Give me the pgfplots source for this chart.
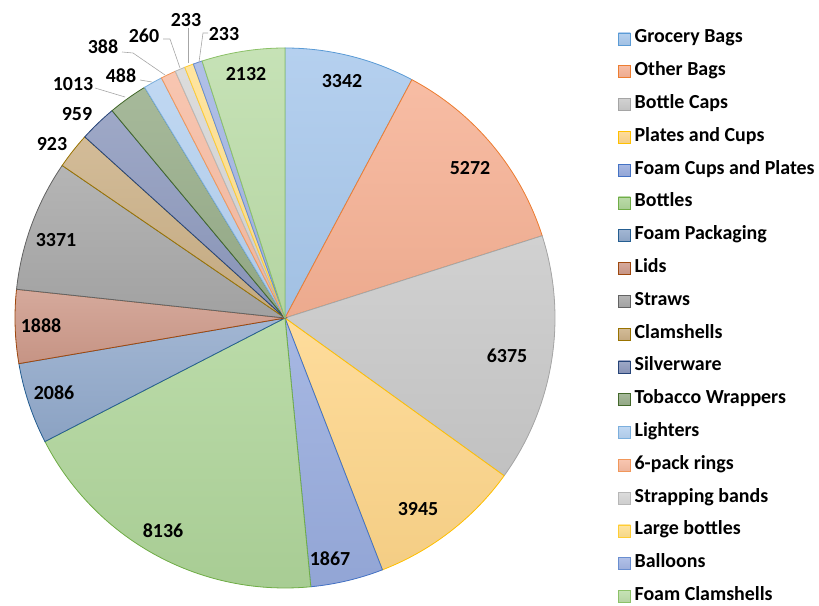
\documentclass[border=0pt]{standalone}
\usepackage{pgfplots}
\pgfplotsset{compat=1.18}
\usepackage{fontspec}
\setmainfont{Carlito}

\definecolor{f1}{HTML}{A8C8EC}\definecolor{d1}{HTML}{5B9BD5}
\definecolor{f2}{HTML}{F6B194}\definecolor{d2}{HTML}{ED7D31}
\definecolor{f3}{HTML}{C9C9C9}\definecolor{d3}{HTML}{A5A5A5}
\definecolor{f4}{HTML}{FED68A}\definecolor{d4}{HTML}{FFC000}
\definecolor{f5}{HTML}{98ACDE}\definecolor{d5}{HTML}{4472C4}
\definecolor{f6}{HTML}{AFD59A}\definecolor{d6}{HTML}{70AD47}
\definecolor{f7}{HTML}{91A9CB}\definecolor{d7}{HTML}{255E91}
\definecolor{f8}{HTML}{CE9A8A}\definecolor{d8}{HTML}{9E480E}
\definecolor{f9}{HTML}{A8A8A8}\definecolor{d9}{HTML}{636363}
\definecolor{f10}{HTML}{CBB086}\definecolor{d10}{HTML}{997300}
\definecolor{f11}{HTML}{8D99BD}\definecolor{d11}{HTML}{264478}
\definecolor{f12}{HTML}{97AD89}\definecolor{d12}{HTML}{43682B}
\definecolor{f13}{HTML}{B5D1F0}\definecolor{d13}{HTML}{7CAFDD}
\definecolor{f14}{HTML}{F7BCA3}\definecolor{d14}{HTML}{F1975A}
\definecolor{f15}{HTML}{D6D6D6}\definecolor{d15}{HTML}{B7B7B7}
\definecolor{f16}{HTML}{FFE08F}\definecolor{d16}{HTML}{FFCD33}
\definecolor{f17}{HTML}{A3B5E3}\definecolor{d17}{HTML}{698ED0}
\definecolor{f18}{HTML}{BCDDA9}\definecolor{d18}{HTML}{8CC168}
\definecolor{leader}{HTML}{A6A6A6}

\expandafter\def\csname nm1\endcsname{Grocery Bags}
\expandafter\def\csname nm2\endcsname{Other Bags}
\expandafter\def\csname nm3\endcsname{Bottle Caps}
\expandafter\def\csname nm4\endcsname{Plates and Cups}
\expandafter\def\csname nm5\endcsname{Foam Cups and Plates}
\expandafter\def\csname nm6\endcsname{Bottles}
\expandafter\def\csname nm7\endcsname{Foam Packaging}
\expandafter\def\csname nm8\endcsname{Lids}
\expandafter\def\csname nm9\endcsname{Straws}
\expandafter\def\csname nm10\endcsname{Clamshells}
\expandafter\def\csname nm11\endcsname{Silverware}
\expandafter\def\csname nm12\endcsname{Tobacco Wrappers}
\expandafter\def\csname nm13\endcsname{Lighters}
\expandafter\def\csname nm14\endcsname{6-pack rings}
\expandafter\def\csname nm15\endcsname{Strapping bands}
\expandafter\def\csname nm16\endcsname{Large bottles}
\expandafter\def\csname nm17\endcsname{Balloons}
\expandafter\def\csname nm18\endcsname{Foam Clamshells}

\def\vals{3342,5272,6375,3945,1867,8136,2086,1888,3371,923,959,1013,488,388,260,233,233,2132}
\newcommand\lbl{\bfseries\fontsize{20}{24}\selectfont}

\begin{document}%
\begin{tikzpicture}
\xdef\tot{0}
\foreach \v in \vals {\pgfmathparse{\tot+\v/1000}\xdef\tot{\pgfmathresult}}
\xdef\cum{0}
\foreach \v [count=\i] in \vals {%
  \pgfmathparse{\cum/\tot*360}\expandafter\xdef\csname sA\i\endcsname{\pgfmathresult}%
  \pgfmathparse{\cum+\v/1000}\xdef\cum{\pgfmathresult}%
  \pgfmathparse{\cum/\tot*360}\expandafter\xdef\csname sB\i\endcsname{\pgfmathresult}%
}
\begin{axis}[
  width=819bp, height=606bp, scale only axis,
  xmin=0, xmax=819, ymin=0, ymax=606,
  hide axis, clip=false,
  legend style={at={(axis description cs:0.7546,0.9490)}, anchor=north west,
    draw=none, fill=none, inner sep=0pt, outer sep=0pt,
    row sep=16.8bp, column sep=4bp,
    font=\lbl,
    nodes={inner sep=0pt, text height=12bp, text depth=4bp}},
  legend cell align=left,
  legend image code/.code={\draw[#1, line width=0.6bp] (0bp,-6bp) rectangle (12bp,6bp);},
]
\pgfplotsinvokeforeach{1,...,18}{
  \addplot[top color=f#1!85!white, bottom color=f#1!96!black, fill=f#1, draw=d#1, line width=0.8bp,
    domain=\csname sA#1\endcsname:\csname sB#1\endcsname, samples=60, variable=\t]
    ({285+270*sin(\t)},{288+270*cos(\t)}) -- (axis cs:285,288) -- cycle;
  \addlegendentry{\csname nm#1\endcsname}
}
% leader lines
\addplot[leader, line width=0.6bp, forget plot] coordinates {(95,518) (125,509)};
\addplot[leader, line width=0.6bp, forget plot] coordinates {(140,526) (152,524)};
\addplot[leader, line width=0.6bp, forget plot] coordinates {(122,554) (133,553) (165,531)};
\addplot[leader, line width=0.6bp, forget plot] coordinates {(163,567) (170,567) (180,538)};
\addplot[leader, line width=0.6bp, forget plot] coordinates {(188,578) (188,543)};
\addplot[leader, line width=0.6bp, forget plot] coordinates {(208,573) (203,573) (199,544)};
% data labels
\node[font=\lbl] at (axis cs:342,525) {3342};
\node[font=\lbl] at (axis cs:470,438) {5272};
\node[font=\lbl] at (axis cs:507,250) {6375};
\node[font=\lbl] at (axis cs:418,97) {3945};
\node[font=\lbl] at (axis cs:330,47) {1867};
\node[font=\lbl] at (axis cs:163,75) {8136};
\node[font=\lbl] at (axis cs:54,213) {2086};
\node[font=\lbl] at (axis cs:41,280) {1888};
\node[font=\lbl] at (axis cs:56,366) {3371};
\node[font=\lbl] at (axis cs:52,462) {923};
\node[font=\lbl] at (axis cs:77,492) {959};
\node[font=\lbl] at (axis cs:73,522) {1013};
\node[font=\lbl] at (axis cs:121,530) {488};
\node[font=\lbl] at (axis cs:103,559) {388};
\node[font=\lbl] at (axis cs:144,570) {260};
\node[font=\lbl] at (axis cs:186,586) {233};
\node[font=\lbl] at (axis cs:224,572) {233};
\node[font=\lbl] at (axis cs:246,532) {2132};
\end{axis}
\pgfresetboundingbox
\path (current axis.south west) rectangle (current axis.north east);
\end{tikzpicture}%
\end{document}
